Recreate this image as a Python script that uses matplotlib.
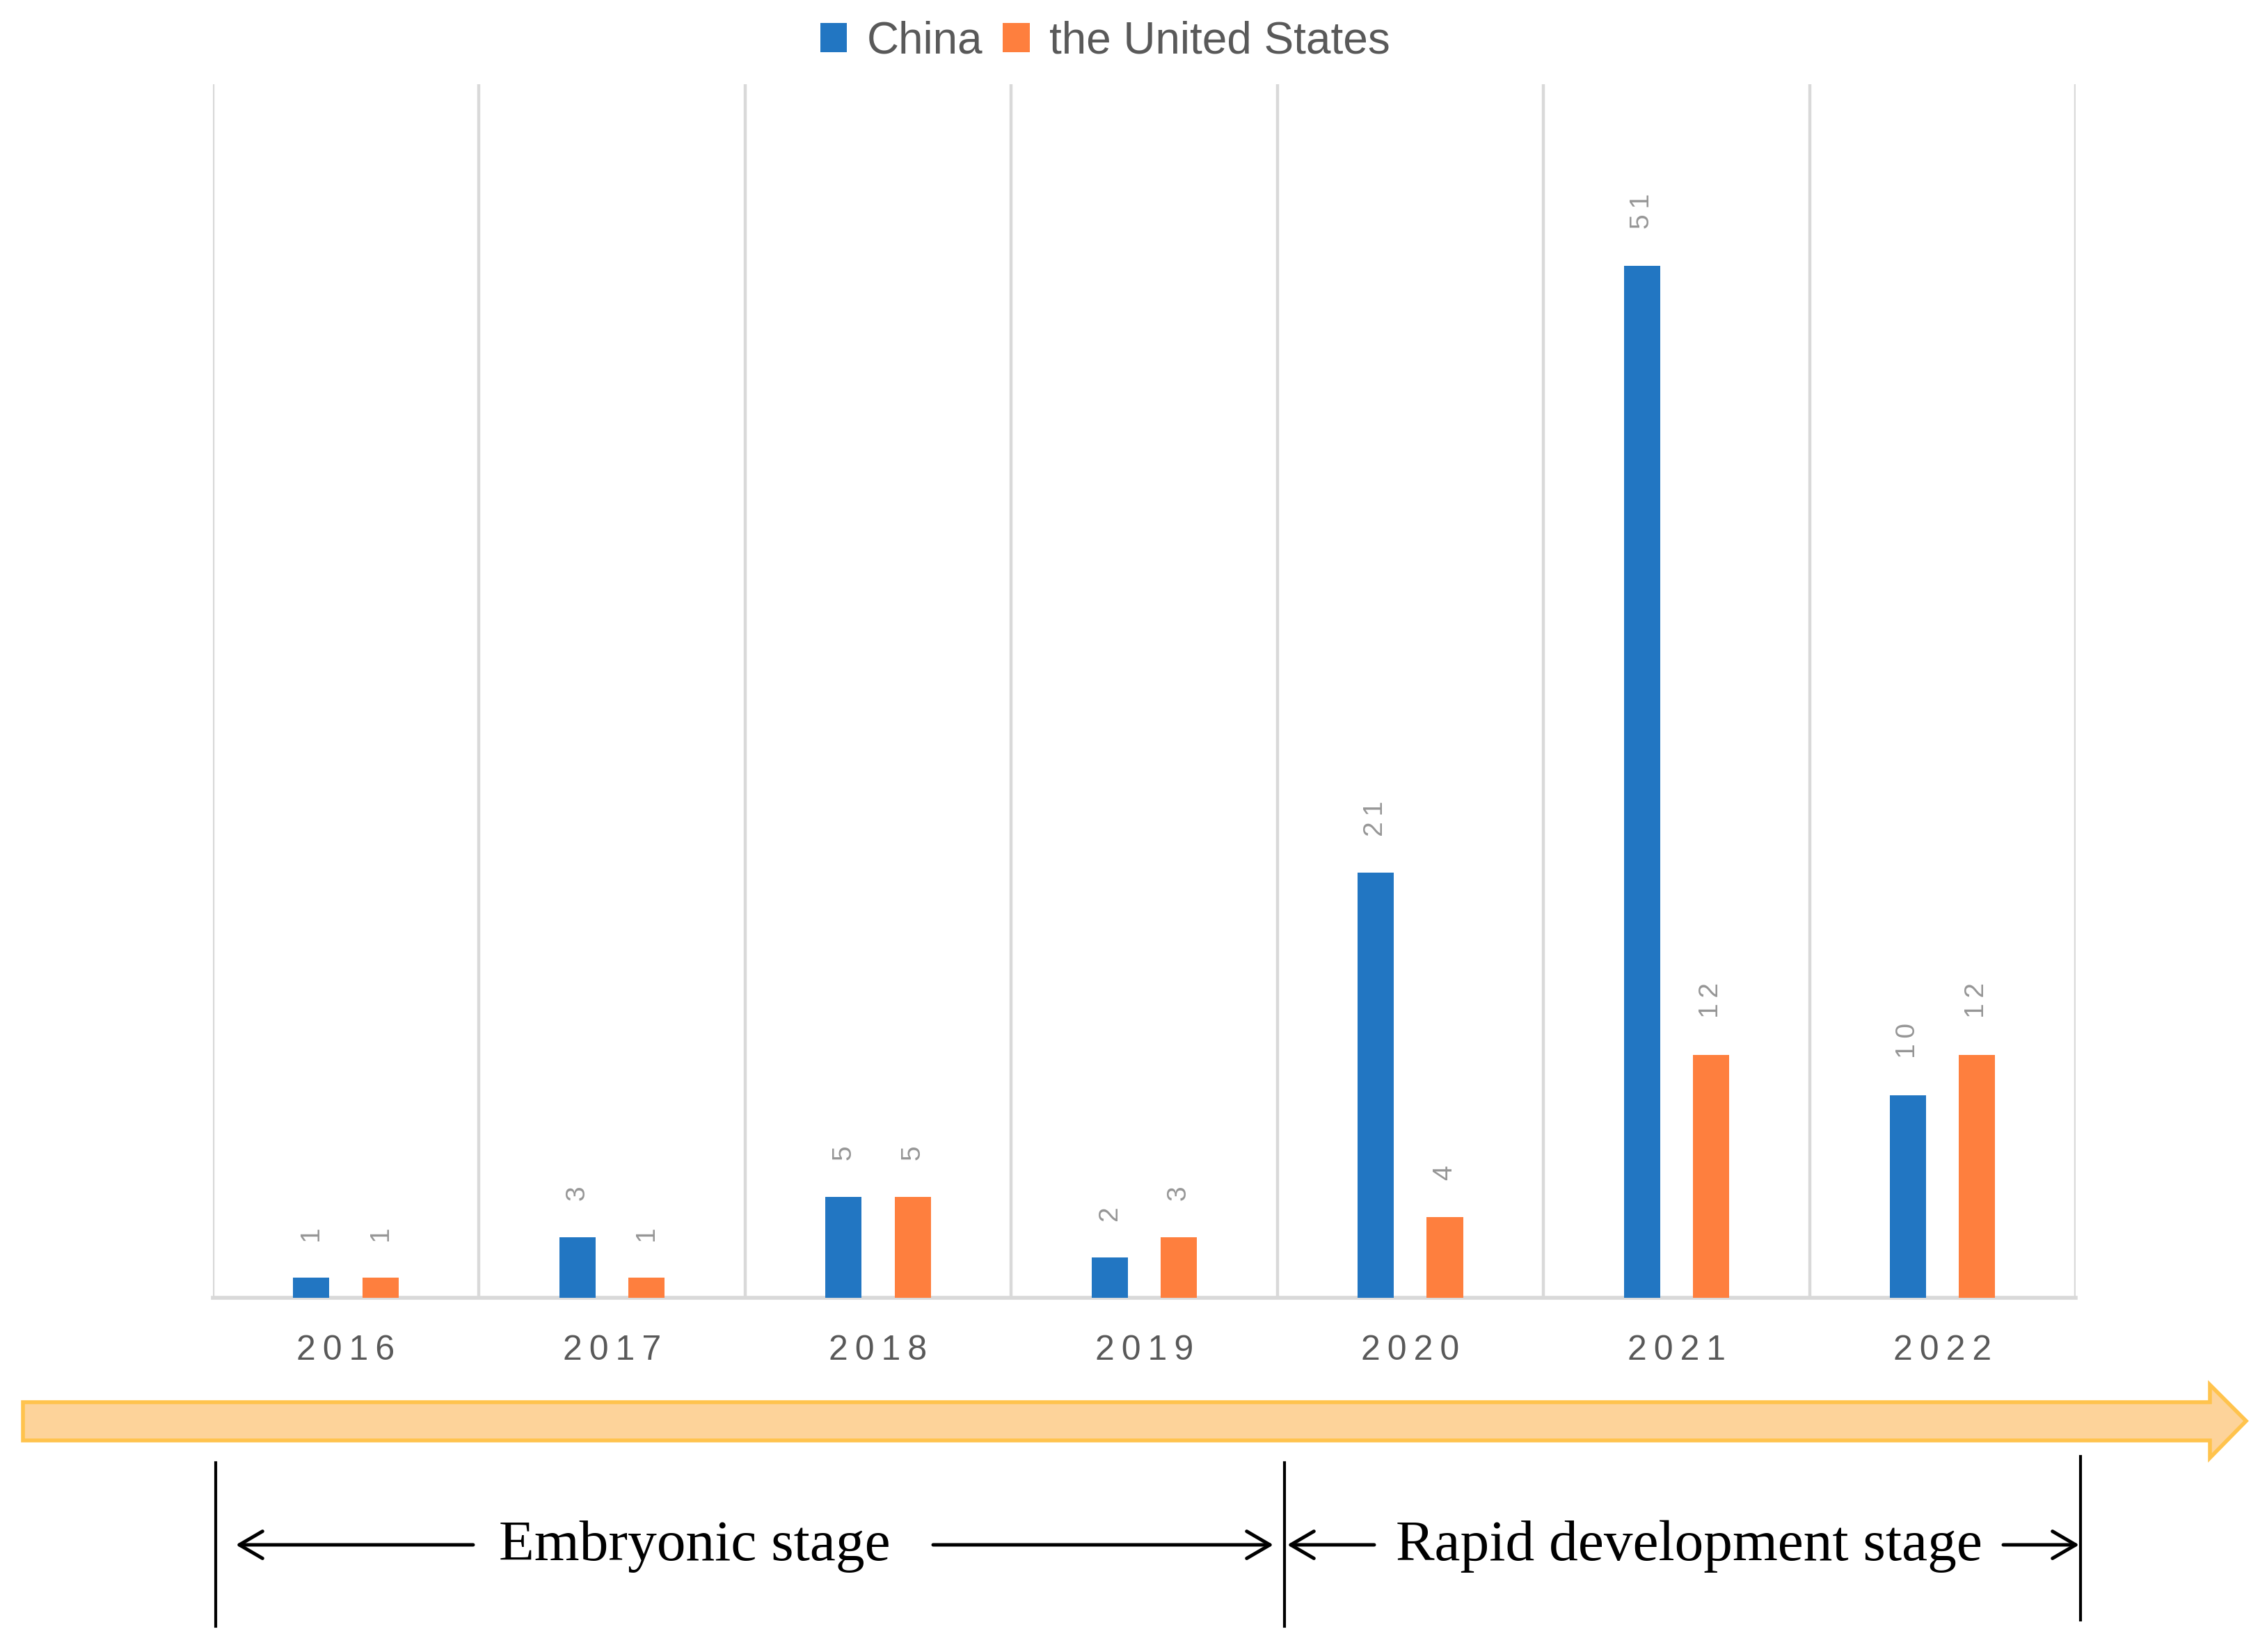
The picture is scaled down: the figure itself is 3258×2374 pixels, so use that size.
import matplotlib
matplotlib.use("Agg")
import matplotlib.pyplot as plt
import matplotlib.patches as mpatches
import numpy as np

# data
years = ["2016", "2017", "2018", "2019", "2020", "2021", "2022"]
china = [1, 3, 5, 2, 21, 51, 10]
usa = [1, 1, 5, 3, 4, 12, 12]
series_names = ["China", "the United States"]
stages = ["Embryonic stage", "Rapid development stage"]

blue = "#2276c2"
orange = "#fe7f3e"
grid_gray = "#d9d9d9"
text_gray = "#595959"
label_gray = "#969696"

plt.rcParams["font.family"] = ["Liberation Sans", "DejaVu Sans"]

W, H = 3258, 2374
fig = plt.figure(figsize=(W / 200, H / 200), dpi=200)


def spaced(s):
    # the original uses letter-spaced labels
    return "\u2009".join(s)


# main bar chart
ax = fig.add_axes([305.6 / W, 1 - 1865 / H, (2983 - 305.6) / W, (1865 - 120.6) / H])
x = np.arange(len(years))
bw = 0.136
off = 0.13
b1 = ax.bar(x - off, china, bw, color=blue, label=series_names[0], zorder=3)
b2 = ax.bar(x + off, usa, bw, color=orange, label=series_names[1], zorder=3)

for bars, vals in ((b1, china), (b2, usa)):
    for r, v in zip(bars, vals):
        ax.annotate(spaced(str(v)), (r.get_x() + r.get_width() / 2, r.get_height()),
                    xytext=(0, 19), textcoords="offset points", rotation=90,
                    ha="center", va="bottom", fontsize=14, color=label_gray)

ax.set_xlim(-0.5, len(years) - 0.5)
ax.set_ylim(0, 60)
for sep in np.arange(-0.5, len(years), 1.0):
    ax.axvline(sep, color=grid_gray, lw=1.6, zorder=1)
for s in ["top", "left", "right"]:
    ax.spines[s].set_visible(False)
ax.spines["bottom"].set_color(grid_gray)
ax.spines["bottom"].set_linewidth(2.0)
ax.set_yticks([])
ax.set_xticks(x)
ax.set_xticklabels([spaced(y) for y in years], fontsize=18, color=text_gray)
ax.tick_params(axis="x", length=0, pad=19)

fig.legend(handles=[b1, b2], labels=series_names, loc="center",
           bbox_to_anchor=(0.4876, 0.975), ncol=2, frameon=False,
           fontsize=23, handlelength=0.6, handleheight=0.65,
           handletextpad=0.45, columnspacing=0.45, labelcolor=text_gray)

# overlay in pixel coordinates for the timeline decorations
ov = fig.add_axes([0, 0, 1, 1])
ov.set_xlim(0, W)
ov.set_ylim(H, 0)
ov.axis("off")

arrow = mpatches.Polygon([(33, 2015), (3176, 2015), (3176, 1990), (3228, 2042),
                          (3176, 2095), (3176, 2070), (33, 2070)],
                         closed=True, facecolor="#fdd39a", edgecolor="#ffc34d", lw=2)
ov.add_patch(arrow)

for xv, y0, y1 in ((310, 2102, 2337), (1846, 2102, 2337), (2990, 2093, 2328)):
    ov.plot([xv, xv], [y0, y1], color="black", lw=1.5)

ov.text(998, 2222, stages[0], fontsize=30, family="Liberation Serif",
        ha="center", va="center")
ov.text(2427, 2222, stages[1], fontsize=30, family="Liberation Serif",
        ha="center", va="center")

for xs, xe in ((680, 339), (1341, 1830), (1975, 1850), (2879, 2988)):
    ov.add_patch(mpatches.FancyArrowPatch((xs, 2220), (xe, 2220),
                                          arrowstyle="->,head_length=0.6,head_width=0.35",
                                          mutation_scale=20, lw=1.8, color="black",
                                          shrinkA=0, shrinkB=0))

fig.savefig("out.png", dpi=200)
